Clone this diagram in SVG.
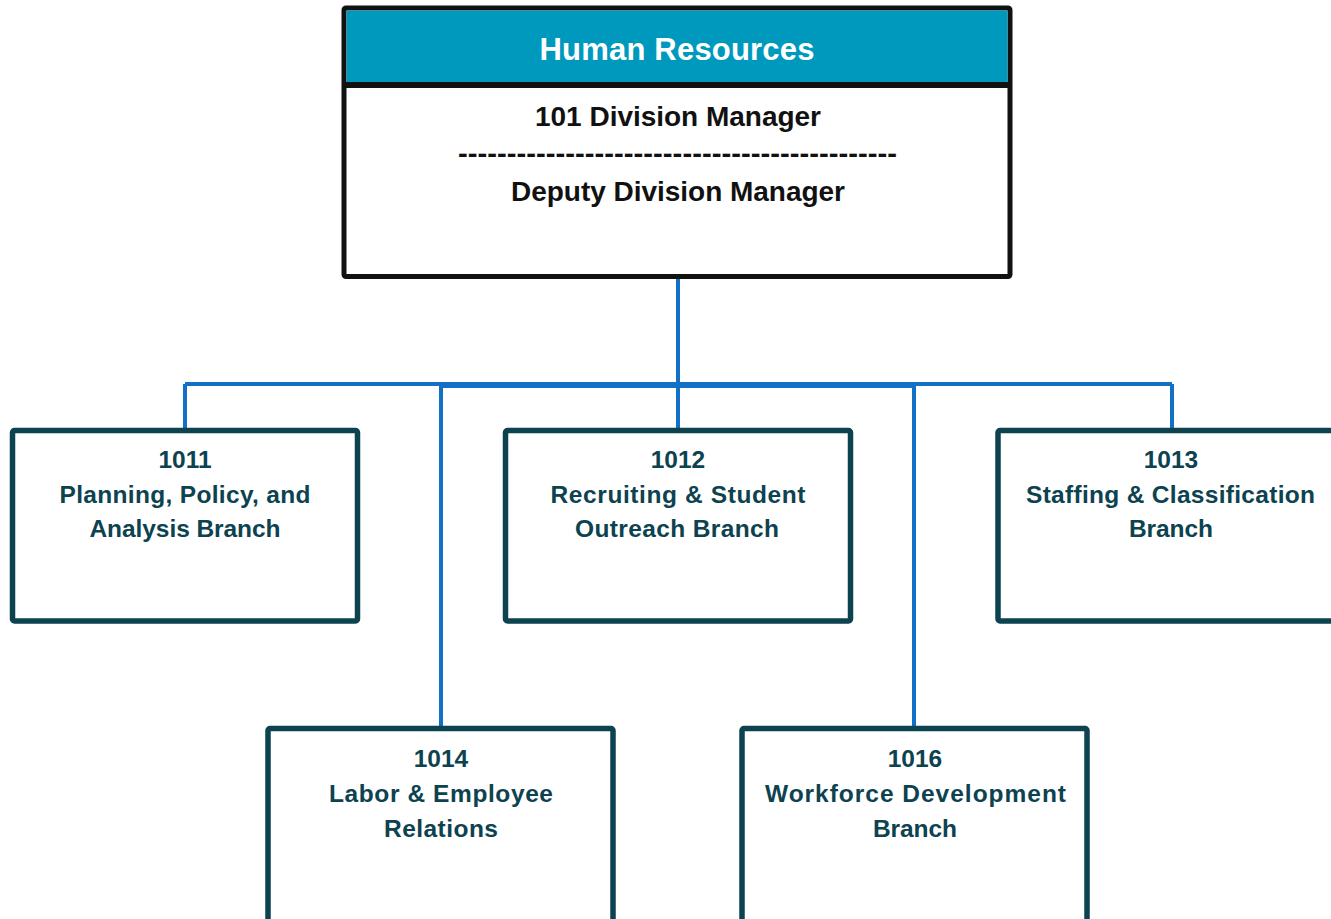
<svg xmlns="http://www.w3.org/2000/svg" width="1331" height="919" viewBox="0 0 1331 919">
<style>
.conn{stroke:#1271C4;stroke-width:4;fill:none;stroke-linecap:butt}
.box{fill:#ffffff;stroke:#0D4250;stroke-width:5.5}
.t{font-family:"Liberation Sans",Arial,sans-serif;font-weight:bold;text-anchor:middle;fill:#0D4250;font-size:24.5px}
.top{font-family:"Liberation Sans",Arial,sans-serif;font-weight:bold;text-anchor:middle;fill:#111111;font-size:28px}
</style>
<rect width="1331" height="919" fill="#ffffff"/>
<g id="connectors">
<line class="conn" x1="678" y1="278" x2="678" y2="430"/>
<line class="conn" x1="185" y1="384" x2="1172" y2="384"/>
<line class="conn" x1="441" y1="386" x2="914" y2="386"/>
<line class="conn" x1="185" y1="384" x2="185" y2="430"/>
<line class="conn" x1="1172" y1="384" x2="1172" y2="430"/>
<line class="conn" x1="441" y1="386" x2="441" y2="728"/>
<line class="conn" x1="914" y1="386" x2="914" y2="728"/>
</g>
<g id="hr">
<rect x="344" y="8" width="666" height="268.5" rx="2" fill="#ffffff" stroke="#111111" stroke-width="5"/>
<rect x="346.5" y="10.5" width="661" height="74" fill="#0099BE"/>
<line x1="344" y1="85" x2="1010" y2="85" stroke="#111111" stroke-width="6"/>
<text x="677" y="60" font-family="'Liberation Sans',Arial,sans-serif" font-weight="bold" font-size="31" fill="#ffffff" text-anchor="middle" textLength="275">Human Resources</text>
<text class="top" x="678" y="126" textLength="286">101 Division Manager</text>
<text class="top" x="677.5" y="163" textLength="439" lengthAdjust="spacingAndGlyphs">---------------------------------------------</text>
<text class="top" x="678" y="201" textLength="334">Deputy Division Manager</text>
</g>
<g id="n1011">
<rect class="box" x="12.5" y="430.5" width="345" height="190.5" rx="2"/>
<text class="t" x="185" y="468">1011</text>
<text class="t" x="185" y="503" textLength="251">Planning, Policy, and</text>
<text class="t" x="185" y="537" textLength="191">Analysis Branch</text>
</g>
<g id="n1012">
<rect class="box" x="505.5" y="430.5" width="345" height="190.5" rx="2"/>
<text class="t" x="678" y="468">1012</text>
<text class="t" x="678" y="503" textLength="255">Recruiting &amp; Student</text>
<text class="t" x="677" y="537" textLength="204">Outreach Branch</text>
</g>
<g id="n1013">
<rect class="box" x="998" y="430.5" width="345" height="190.5" rx="2"/>
<text class="t" x="1171" y="468">1013</text>
<text class="t" x="1170.5" y="503" textLength="289">Staffing &amp; Classification</text>
<text class="t" x="1171" y="537" textLength="84">Branch</text>
</g>
<g id="n1014">
<rect class="box" x="268" y="728.5" width="345" height="200" rx="2"/>
<text class="t" x="441" y="767">1014</text>
<text class="t" x="441" y="802" textLength="224">Labor &amp; Employee</text>
<text class="t" x="441" y="837" textLength="114">Relations</text>
</g>
<g id="n1016">
<rect class="box" x="742" y="728.5" width="345" height="200" rx="2"/>
<text class="t" x="915" y="767">1016</text>
<text class="t" x="915.5" y="802" textLength="301">Workforce Development</text>
<text class="t" x="915" y="837" textLength="84">Branch</text>
</g>
</svg>
